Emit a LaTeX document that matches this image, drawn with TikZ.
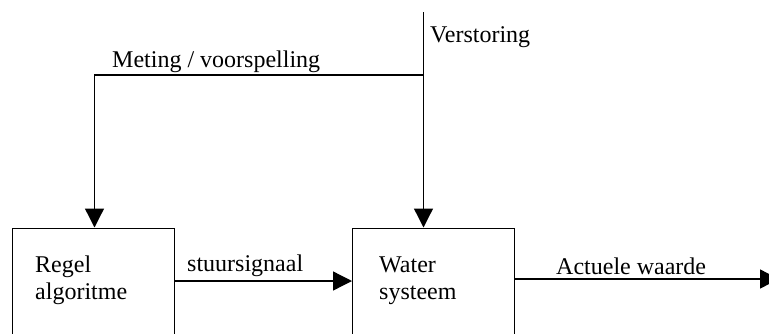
\documentclass[tikz,border=0pt]{standalone}
\usepackage{fontspec}
\setmainfont{Liberation Serif}
\usetikzlibrary{arrows.meta}
\begin{document}
\begin{tikzpicture}[x=1pt,y=-1pt,
  block/.style={draw, line width=0.9pt, minimum width=162pt, minimum height=130pt,
    anchor=north west, inner sep=0pt},
  txt/.style={anchor=base west, inner sep=0pt, font=\fontsize{24}{27}\selectfont},
  btxt/.style={txt, align=left},
  flow/.style={line width=1.3pt, -{Triangle[length=19pt,width=19pt]}},
  wire/.style={line width=1.3pt}]
  \clip (0,0) rectangle (769,333);
  \useasboundingbox (0,0) rectangle (769,333);

  % blocks (their lower edges run off the sheet)
  \node[block] (regel) at (12,227.5) {};
  \node[block] (water) at (352,227.5) {};

  % two-line labels: the base anchor sits on the second line
  \node[btxt] (regeltxt) at (35,299) {Regel\\algoritme};
  \node[btxt] (watertxt) at (379,299) {Water\\systeem};

  % disturbance and measurement branch
  \coordinate (vtop) at (423.5,12);
  \coordinate (junc) at (423.5,75);
  \coordinate (corner) at (94.5,75);
  \draw[wire] (vtop) -- (junc);
  \draw[flow] (junc) -- (water.north west -| junc);
  \draw[flow] (junc) -- (corner) -- (regel.north west -| corner);

  \node[txt] (verst) at (430,42) {Verstoring};
  \node[txt] (meting) at (112,67) {Meting / voorspelling};

  % forward path
  \coordinate (sig) at (0,281);
  \draw[flow] (regel.north east |- sig) -- (water.north west |- sig);
  \node[txt] (stuur) at (187,271) {stuursignaal};

  \coordinate (outpt) at (779,279);
  \draw[flow] (water.north east |- outpt) -- (outpt);
  \node[txt] (actueel) at (556,274.5) {Actuele waarde};
\end{tikzpicture}
\end{document}
